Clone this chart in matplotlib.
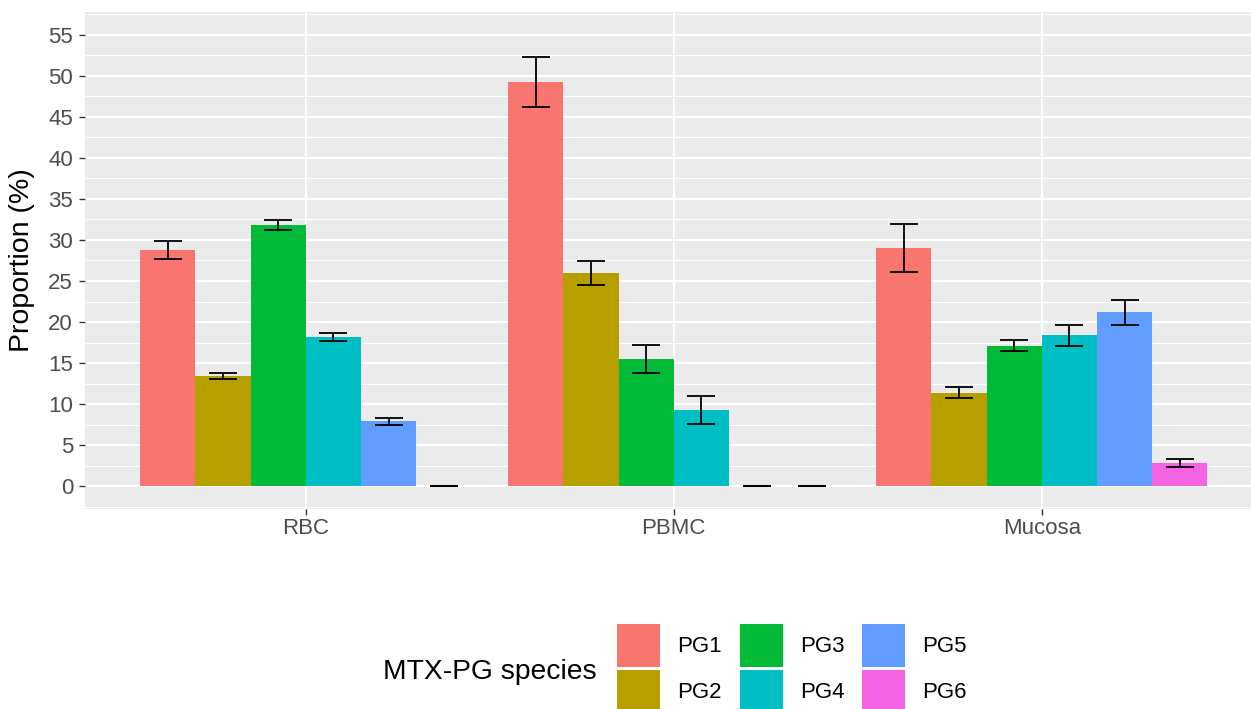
import matplotlib
matplotlib.use("Agg")
import matplotlib.pyplot as plt
import numpy as np
from matplotlib.ticker import MultipleLocator

plt.rcParams['font.family'] = ['Liberation Sans', 'DejaVu Sans']

categories = ["RBC", "PBMC", "Mucosa"]
species = ["PG1", "PG2", "PG3", "PG4", "PG5", "PG6"]
colors = ["#F8766D", "#B79F00", "#00BA38", "#00BFC4", "#619CFF", "#F564E3"]

# mean proportions (%) per category, one list per species
pg1 = [28.8, 49.2, 29.0]
pg2 = [13.4, 26.0, 11.4]
pg3 = [31.8, 15.55, 17.15]
pg4 = [18.2, 9.3, 18.4]
pg5 = [7.95, 0.0, 21.2]
pg6 = [0.0, 0.0, 2.85]

# standard errors
pg1_se = [1.1, 3.05, 2.9]
pg2_se = [0.35, 1.45, 0.67]
pg3_se = [0.6, 1.7, 0.7]
pg4_se = [0.5, 1.65, 1.25]
pg5_se = [0.43, 0.0, 1.55]
pg6_se = [0.0, 0.0, 0.47]

means = [pg1, pg2, pg3, pg4, pg5, pg6]
errs = [pg1_se, pg2_se, pg3_se, pg4_se, pg5_se, pg6_se]

W, H = 1251, 709
fig = plt.figure(figsize=(W / 100, H / 100), dpi=100)
ax = fig.add_axes([85 / W, 1 - 509 / H, (1262.6 - 85) / W, (509 - 12) / H])
ax.set_facecolor("#EBEBEB")
for s in ax.spines.values():
    s.set_visible(False)

x = np.arange(1, len(categories) + 1)
n = len(species)
bw = 0.9 / n
for i, (sp, m, e, c) in enumerate(zip(species, means, errs, colors)):
    xi = x + (i - (n - 1) / 2) * bw
    ax.bar(xi, m, width=bw, color=c, label=sp, edgecolor="none", zorder=2)
    ax.errorbar(xi, m, yerr=e, fmt="none", ecolor="black", elinewidth=1.3,
                capsize=10.2, capthick=1.3, zorder=3)

ax.set_xlim(0.4, 3.6)
ax.set_ylim(-2.75, 57.75)
ax.set_xticks(x)
ax.set_xticklabels(categories)
ax.yaxis.set_major_locator(MultipleLocator(5))
ax.yaxis.set_minor_locator(MultipleLocator(2.5))
ax.set_axisbelow(True)
ax.grid(which="major", color="white", lw=1.5)
ax.grid(which="minor", axis="y", color="white", lw=0.75)
ax.tick_params(which="minor", length=0)
ax.tick_params(axis="both", which="major", length=4.3, width=1.0, color="#333333",
               labelcolor="#4D4D4D", labelsize=16)
ax.tick_params(axis="x", pad=2.5)
ax.tick_params(axis="y", pad=4.3)

ax.set_ylabel("Proportion (%)", fontsize=20.5, color="black", va="center")
ax.yaxis.set_label_coords(22.5 / W, 1 - 260.5 / H, transform=fig.transFigure)

fig.text(383 / W, 1 - 679 / H, "MTX-PG species", fontsize=20.3, ha="left",
         va="baseline", color="black")
fs = 16
fpx = fs * 100 / 72
# matplotlib patch height = fs*hh - 0.35*fs*(hh-0.7); solve for 43 px
key_pt = 43 * 72 / 100
hh = (key_pt - 0.35 * fs * 0.7) / (fs - 0.35 * fs)
leg = fig.legend(loc="upper left", bbox_to_anchor=(617 / W, 1 - 624 / H),
                 bbox_transform=fig.transFigure, ncol=3, frameon=False,
                 fontsize=fs, handlelength=43 / fpx, handleheight=hh,
                 handletextpad=17 / fpx, columnspacing=18 / fpx,
                 labelspacing=3 / fpx, borderpad=0, borderaxespad=0)

fig.savefig("out.png", dpi=100)
